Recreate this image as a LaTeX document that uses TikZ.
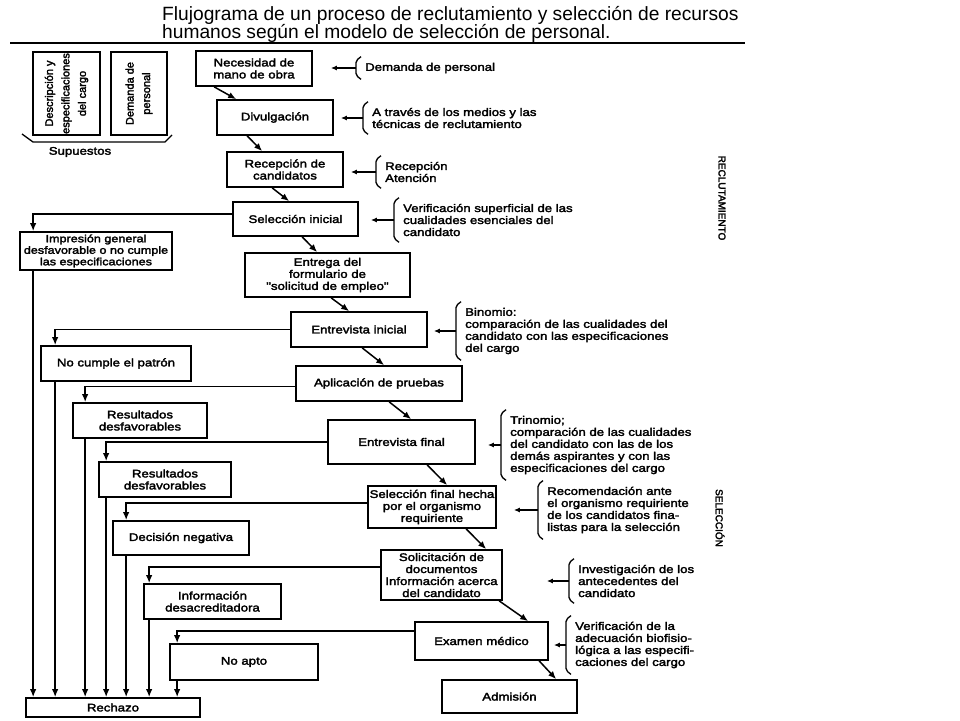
\documentclass[tikz,border=0pt]{standalone}
\usepackage{fontspec}
\setmainfont{Liberation Sans}
\newfontfamily\boxfont[FakeStretch=1.2,FakeBold=2.5]{Liberation Sans}
\newfontfamily\sidefont[FakeBold=2.5]{Liberation Sans}
\usetikzlibrary{arrows.meta,positioning,calc}

\begin{document}
\begin{tikzpicture}
[x=1pt,y=1pt,
%
box/.style={draw=black,line width=1.7pt,inner sep=0pt,align=center,font=\boxfont\fontsize{11}{12}\selectfont},
wh/.style 2 args={minimum width=#1pt,minimum height=#2pt},
sidebox/.style={draw=black,line width=1.7pt,inner sep=0pt,align=center,rotate=90,font=\sidefont\fontsize{11}{16.5}\selectfont},
note/.style={inner sep=0pt,align=left,font=\boxfont\fontsize{11}{12}\selectfont},
%
flow/.style={line width=1.5pt,-{Latex[length=8pt,width=6.5pt]}},
brk/.style={line width=1.3pt,rounded corners=2pt},
tip/.style={line width=1.3pt,-{Latex[length=6pt,width=5pt]}}]
%
\fill[white] (0,0) rectangle (960,-720);
\useasboundingbox (0,0) rectangle (960,-720);
%
% title
\node[anchor=north west,align=left,inner sep=0pt,font=\fontsize{19.2}{18.5}\selectfont] (title) at (162,-6)
{Flujograma de un proceso de reclutamiento y selección de recursos\\humanos según el modelo de selección de personal.};
\draw[line width=1.7pt] (10,-43) -- (745,-43);
%
% supuestos
\node[sidebox,minimum width=83pt,minimum height=67pt] (desc) at (66.5,-93.5) {Descripción y\\especificaciones\\del cargo};
\node[sidebox,minimum width=83pt,minimum height=56pt] (dmd) at (139,-93.5) {Demanda de\\personal};
\draw[line width=1.3pt] (22,-134) -- (33,-142) -- (165,-142) -- (172,-135);
\node[note] (supu) at (80,-152) {Supuestos};
%
% main column
\node[box,wh={116}{35}] (nec) at (254,-68.5) {Necesidad de\\mano de obra};
\node[box,wh={116}{35}] (div) at (275,-117.5) {Divulgación};
\node[box,wh={116}{35}] (rec) at (285,-169.5) {Recepción de\\candidatos};
\node[box,wh={125}{34}] (selini) at (295.5,-219) {Selección inicial};
\node[box,wh={165}{44}] (entrega) at (327.5,-275) {Entrega del\\formulario de\\"solicitud de empleo"};
\node[box,wh={136}{35}] (entini) at (359,-329.5) {Entrevista inicial};
\node[box,wh={166}{35}] (aplic) at (379,-383.5) {Aplicación de pruebas};
\node[box,wh={147}{44}] (entfin) at (401.5,-442) {Entrevista final};
\node[box,wh={128}{42}] (selfin) at (432,-507) {Selección final hecha\\por el organismo\\requiriente};
\node[box,wh={121}{50}] (solic) at (441.5,-575) {Solicitación de\\documentos\\Información acerca\\del candidato};
\node[box,wh={133}{38}] (exam) at (481.5,-641) {Examen médico};
\node[box,wh={135}{33}] (adm) at (509.5,-696.5) {Admisión};
%
% rejections
\node[box,wh={152}{38},font=\boxfont\fontsize{10.5}{11.5}\selectfont] (impr) at (96,-251) {Impresión general\\desfavorable o no cumple\\las especificaciones};
\node[box,wh={150}{35}] (nocum) at (116,-363.5) {No cumple el patrón};
\node[box,wh={134}{35}] (res1) at (140,-420.5) {Resultados\\desfavorables};
\node[box,wh={132}{35}] (res2) at (165,-479.5) {Resultados\\desfavorables};
\node[box,wh={136}{34}] (decis) at (181,-538) {Decisión negativa};
\node[box,wh={137}{35}] (info) at (212.5,-601.5) {Información\\desacreditadora};
\node[box,wh={148}{36}] (noapto) at (244,-662) {No apto};
\node[box,wh={174}{19}] (rech) at (113,-707.5) {Rechazo};
%
% notes
\node[note,anchor=west] (dem) at (365,-68) {Demanda de personal};
\node[note,anchor=west] (med) at (372,-118) {A través de los medios y las\\técnicas de reclutamiento};
\node[note,anchor=west] (aten) at (385,-172) {Recepción\\Atención};
\node[note,anchor=west] (vsup) at (403,-220) {Verificación superficial de las\\cualidades esenciales del\\candidato};
\node[note,anchor=west] (bin) at (465,-331) {Binomio:\\comparación de las cualidades del\\candidato con las especificaciones\\del cargo};
\node[note,anchor=west] (tri) at (510,-445) {Trinomio;\\comparación de las cualidades\\del candidato con las de los\\demás aspirantes y con las\\especificaciones del cargo};
\node[note,anchor=west] (rcm) at (547,-510) {Recomendación ante\\el organismo requiriente\\de los candidatos fina-\\listas para la selección};
\node[note,anchor=west] (inv) at (578,-581) {Investigación de los\\antecedentes del\\candidato};
\node[note,anchor=west] (bio) at (575,-645) {Verificación de la\\adecuación biofisio-\\lógica a las especifi-\\caciones del cargo};
%
% phases
\node[rotate=-90,inner sep=0pt,font=\sidefont\fontsize{10}{12}\selectfont] (recl) at (722,-198) {RECLUTAMIENTO};
\node[rotate=-90,inner sep=0pt,font=\sidefont\fontsize{10}{12}\selectfont] (selec) at (720,-518) {SELECCIÓN};
%
% flow down the column
\foreach \a/\sa/\b/\sb in {nec/19/div/20,div/31/rec/36,rec/46/selini/57,selini/70/entrega/73,
  entrega/87/entini/59,entini/72/aplic/89,aplic/94/entfin/84,entfin/100/selfin/80,
  selfin/99/solic/106,solic/119/exam/114,exam/125/adm/115}
\draw[flow] ($(\a.south west)+(\sa,0)$) -- ($(\b.north west)+(\sb,0)$);
%
% to the rejections
\foreach \a/\dy/\b/\d in {selini/5/impr/14,entini/0/nocum/15,aplic/-3/res1/13,entfin/0/res2/8,
  selfin/4/decis/14,solic/8/info/6,exam/10/noapto/8}
\draw[flow] ($(\a.west)+(0,\dy)$) -| ($(\b.north west)+(\d,0)$);
\foreach \b/\d in {impr/14,nocum/15,res1/13,res2/8,decis/14,info/6,noapto/8}
\draw[flow] ($(\b.south west)+(\d,0)$) coordinate (s) -- (s |- rech.north);
%
% notes to boxes
\foreach \n/\b/\g in {dem/nec/18,med/div/7,aten/rec/7,vsup/selini/12,bin/entini/6,
  tri/entfin/12,rcm/selfin/17,inv/solic/44,bio/exam/5}
{
\draw[brk] ($(\n.north west)+(-4,6)$) -- ($(\n.north west)+(-9,2)$) -- ($(\n.south west)+(-9,-2)$) -- ($(\n.south west)+(-4,-6)$);
\draw[tip] ($(\n.west)+(-9,0)$) -- ($(\n.west -| \b.east)+(\g,0)$);
}
\end{tikzpicture}
\end{document}
